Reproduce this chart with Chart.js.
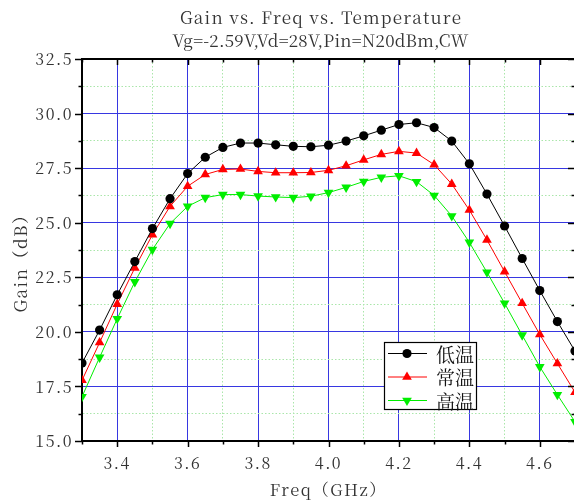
<!DOCTYPE html>
<html><head><meta charset="utf-8">
<script src="https://cdn.jsdelivr.net/npm/chart.js@4"></script>
<style>
html,body{margin:0;padding:0;overflow:hidden;background:#fff;width:574px;height:502px}
#wrap{width:640px;height:502px}
canvas{display:block}
</style></head>
<body><div id="wrap"><canvas id="c" width="640" height="502" style="width:640px;height:502px"></canvas></div>
<script>
const titleLines = ['Gain vs. Freq vs. Temperature', 'Vg=-2.59V,Vd=28V,Pin=N20dBm,CW'];
const xTitle = 'Freq（GHz）';
const yTitle = 'Gain（dB）';
const seriesNames = ['低温', '常温', '高温'];
const freqs = [3.30,3.35,3.40,3.45,3.50,3.55,3.60,3.65,3.70,3.75,3.80,3.85,3.90,3.95,4.00,4.05,4.10,4.15,4.20,4.25,4.30,4.35,4.40,4.45,4.50,4.55,4.60,4.65,4.70];
const lowTemp = [18.57,20.08,21.70,23.22,24.73,26.10,27.25,28.00,28.45,28.65,28.65,28.57,28.50,28.48,28.55,28.74,28.98,29.24,29.50,29.58,29.36,28.74,27.70,26.31,24.85,23.36,21.89,20.47,19.12];
const normTemp = [17.78,19.51,21.27,22.93,24.45,25.75,26.67,27.21,27.44,27.46,27.35,27.29,27.29,27.30,27.40,27.61,27.88,28.13,28.27,28.19,27.66,26.77,25.58,24.21,22.76,21.31,19.88,18.55,17.23];
const highTemp = [17.03,18.83,20.60,22.29,23.77,24.96,25.75,26.15,26.29,26.29,26.22,26.18,26.15,26.21,26.38,26.62,26.89,27.08,27.15,26.88,26.25,25.31,24.10,22.73,21.31,19.85,18.40,17.12,15.88];
const xMin = 3.3, xMax = 4.7, xStep = 0.1;
const yMin = 15, yMax = 32.5, yStep = 1.25;

const FONT = '"Noto Serif CJK SC", "Liberation Serif", serif';
const MAJOR = 'rgb(55,55,225)';
const MINOR = 'rgb(170,230,170)';
const isMajorX = v => Math.round(v*10) % 2 === 0;
const isMajorY = v => Math.round(v/1.25) % 2 === 0;

function mk(vals){ return freqs.map((f,i)=>({x:f,y:vals[i]})); }

const styles = [
  {color:'#000000', pointStyle:'circle', radius:4.6, rotation:0},
  {color:'#ff0000', pointStyle:'triangle', radius:5.6, rotation:0},
  {color:'#00ee00', pointStyle:'triangle', radius:5.6, rotation:180}
];
const allVals = [lowTemp, normTemp, highTemp];

const datasets = allVals.map((v,i)=>({
  label: seriesNames[i],
  data: mk(v),
  borderColor: styles[i].color,
  backgroundColor: styles[i].color,
  pointBackgroundColor: styles[i].color,
  pointBorderColor: styles[i].color,
  pointBorderWidth: 0,
  pointStyle: styles[i].pointStyle,
  pointRadius: styles[i].radius,
  pointRotation: styles[i].rotation,
  borderWidth: 1,
  tension: 0,
  xAxisID: 'x', yAxisID: 'y'
}));

function setLS(ctx, px){ try { ctx.letterSpacing = px + 'px'; } catch(e) {} }

const framePlugin = {
  id: 'frame',
  beforeDraw(chart){ setLS(chart.ctx, 1.5); },
  afterDraw(chart){
    const {ctx, chartArea:a, scales} = chart;
    const x = scales.x, y = scales.y;
    ctx.save();
    ctx.strokeStyle = '#000';
    ctx.lineWidth = 1.5;
    const ln = (x1,y1,x2,y2)=>{ctx.beginPath();ctx.moveTo(x1,y1);ctx.lineTo(x2,y2);ctx.stroke();};
    x.ticks.forEach(t=>{
      const px = Math.round(x.getPixelForValue(t.value))+0.5;
      const L = isMajorX(t.value) ? 6 : 3.5;
      ln(px, a.bottom, px, a.bottom+L);
      ln(px, a.top, px, a.top+L);
    });
    y.ticks.forEach(t=>{
      const py = Math.round(y.getPixelForValue(t.value))+0.5;
      const L = isMajorY(t.value) ? 7 : 3.5;
      ln(a.left-L, py, a.left, py);
      ln(a.right-L, py, a.right, py);
    });
    ctx.lineWidth = 2;
    ln(a.left-1, a.top, a.right+1, a.top);
    ln(a.right, a.top, a.right, a.bottom);

    // title (two lines, widths fitted to the reference)
    ctx.fillStyle = '#333';
    ctx.font = '17px ' + FONT;
    ctx.textAlign = 'left';
    ctx.textBaseline = 'middle';
    const targets = [281, 296], ys = [18, 41], cx = 320.5;
    titleLines.forEach((s,i)=>{
      setLS(ctx, 0);
      const w0 = ctx.measureText(s).width;
      const sp = Math.max(0, (targets[i]-w0)/(s.length-1));
      setLS(ctx, sp);
      ctx.fillText(s, cx - targets[i]/2, ys[i]);
    });

    // legend
    setLS(ctx, 0);
    const bx = 384.5, by = 342.5, bw = 92, bh = 67;
    ctx.fillStyle = '#fff';
    ctx.fillRect(bx, by, bw, bh);
    ctx.lineWidth = 1.2;
    ctx.strokeStyle = '#000';
    ctx.strokeRect(bx, by, bw, bh);
    chart.data.datasets.forEach((ds,i)=>{
      const ry = 353.5 + i*23.5;
      ctx.strokeStyle = ds.borderColor;
      ctx.lineWidth = 1;
      ln(388, ry, 427, ry);
      ctx.fillStyle = ds.pointBackgroundColor;
      Chart.helpers.drawPoint(ctx, {pointStyle: ds.pointStyle, radius: ds.pointRadius, rotation: ds.pointRotation, borderWidth: 0}, 407, ry);
      ctx.fillStyle = '#111';
      ctx.font = '19px ' + FONT;
      ctx.textBaseline = 'middle';
      ctx.textAlign = 'left';
      ctx.fillText(ds.label, 436, ry+1);
    });

    // y title
    setLS(ctx, 1.5);
    ctx.translate(21, 259);
    ctx.rotate(-Math.PI/2);
    ctx.fillStyle = '#333';
    ctx.font = '17px ' + FONT;
    ctx.textAlign = 'center';
    ctx.textBaseline = 'middle';
    ctx.fillText(yTitle, 0, 0);
    ctx.restore();
  }
};

Chart.defaults.font.family = FONT;
Chart.defaults.color = '#333';

new Chart(document.getElementById('c'), {
  type: 'line',
  data: { datasets },
  plugins: [framePlugin],
  options: {
    responsive: false,
    animation: false,
    devicePixelRatio: 1,
    layout: { padding: { top: 59, left: 0, right: 0, bottom: 0 } },
    plugins: {
      legend: { display: false },
      tooltip: { enabled: false },
      title: { display: false }
    },
    scales: {
      x: {
        type: 'linear', position: 'bottom',
        min: xMin, max: xMax,
        ticks: {
          stepSize: xStep, autoSkip: false, maxRotation: 0, padding: 12,
          color: '#333',
          font: { size: 16 },
          callback: v => isMajorX(v) ? v.toFixed(1) : ''
        },
        grid: {
          drawTicks: false,
          lineWidth: 1,
          color: c => (c.tick && isMajorX(c.tick.value)) ? MAJOR : MINOR
        },
        border: {
          display: true, color: '#000', width: 2,
          dash: c => (c.tick && !isMajorX(c.tick.value)) ? [1.5, 2] : []
        },
        title: { display: true, text: xTitle, color: '#333', font: { size: 16.5 }, padding: { top: 0, bottom: 2 } },
        afterFit: s => { s.height = 61; }
      },
      y: {
        type: 'linear', position: 'left',
        min: yMin, max: yMax,
        ticks: {
          stepSize: yStep, autoSkip: false, padding: 9,
          color: '#333',
          font: { size: 16 },
          callback: v => isMajorY(v) ? v.toFixed(1) : ''
        },
        grid: {
          drawTicks: false,
          lineWidth: 1,
          color: c => (c.tick && isMajorY(c.tick.value)) ? MAJOR : MINOR
        },
        border: {
          display: true, color: '#000', width: 2,
          dash: c => (c.tick && !isMajorY(c.tick.value)) ? [1.5, 2] : []
        },
        afterFit: s => { s.width = 82; }
      },
      y2: {
        type: 'linear', position: 'right', display: true,
        ticks: { display: false },
        grid: { display: false, drawTicks: false },
        border: { display: false },
        afterFit: s => { s.width = 65; }
      }
    }
  }
});
</script></body></html>
